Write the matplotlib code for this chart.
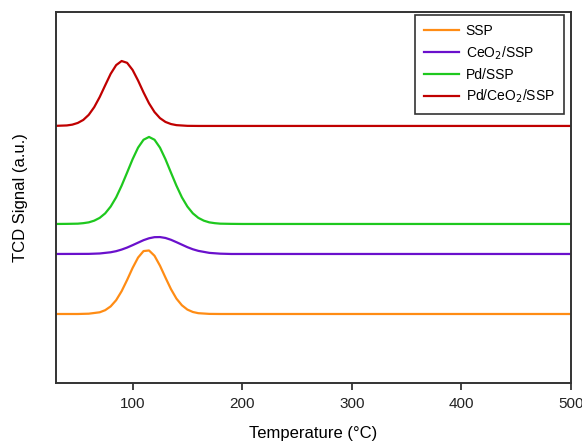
import matplotlib
matplotlib.use("Agg")
import matplotlib.pyplot as plt

plt.rcParams['font.family'] = ['Liberation Sans', 'DejaVu Sans']

# temperatures (C) and TCD signals (a.u.)
t_ssp = [30, 50, 60, 70, 75, 80, 85, 90, 95, 100, 105, 110, 115, 120, 125, 130, 135, 140,
         145, 150, 155, 160, 170, 180, 500]
y_ssp = [0.690, 0.690, 0.693, 0.707, 0.728, 0.766, 0.828, 0.918, 1.030, 1.150, 1.254, 1.319,
         1.325, 1.272, 1.173, 1.054, 0.939, 0.844, 0.777, 0.734, 0.710, 0.698, 0.691, 0.690, 0.690]

t_ceo2 = [30, 60, 70, 80, 85, 90, 95, 100, 105, 110, 115, 120, 125, 130, 135, 140, 145, 150,
          155, 160, 170, 180, 190, 500]
y_ceo2 = [1.290, 1.291, 1.295, 1.307, 1.318, 1.334, 1.354, 1.378, 1.403, 1.428, 1.447, 1.458,
          1.459, 1.450, 1.432, 1.408, 1.383, 1.358, 1.337, 1.321, 1.301, 1.293, 1.290, 1.290]

t_pd = [30, 40, 50, 55, 60, 65, 70, 75, 80, 85, 90, 95, 100, 105, 110, 115, 120, 125, 130,
        135, 140, 145, 150, 155, 160, 165, 170, 175, 180, 190, 200, 500]
y_pd = [1.590, 1.591, 1.593, 1.598, 1.606, 1.623, 1.651, 1.696, 1.764, 1.856, 1.973, 2.104,
        2.237, 2.353, 2.432, 2.460, 2.432, 2.353, 2.237, 2.104, 1.973, 1.856, 1.764, 1.696,
        1.651, 1.623, 1.606, 1.598, 1.593, 1.591, 1.590, 1.590]

t_pdceo2 = [30, 40, 45, 50, 55, 60, 65, 70, 75, 80, 85, 90, 95, 100, 105, 110, 115, 120, 125,
            130, 135, 140, 150, 160, 500]
y_pdceo2 = [2.571, 2.575, 2.583, 2.600, 2.630, 2.681, 2.758, 2.859, 2.976, 3.091, 3.178, 3.219,
            3.201, 3.130, 3.024, 2.905, 2.796, 2.709, 2.648, 2.610, 2.589, 2.578, 2.571, 2.570,
            2.570]

fig = plt.figure(figsize=(5.82, 4.41), dpi=100)
ax = fig.add_axes([0.096, 0.1315, 0.885, 0.8415])

ax.plot(t_ssp, y_ssp, color='#ff8c14', lw=1.6, label='SSP')
ax.plot(t_ceo2, y_ceo2, color='#6a10cc', lw=1.6, label='CeO$_2$/SSP')
ax.plot(t_pd, y_pd, color='#1ec81e', lw=1.6, label='Pd/SSP')
ax.plot(t_pdceo2, y_pdceo2, color='#c00000', lw=1.6, label='Pd/CeO$_2$/SSP')

ax.set_xlim(30, 500)
ax.set_ylim(0, 3.71)
ax.set_xticks([100, 200, 300, 400, 500])
ax.set_yticks([])
ax.tick_params(axis='x', direction='out', length=5, width=1.2, labelsize=11, pad=5, colors='#222222')
for s in ax.spines.values():
    s.set_linewidth(1.4)
    s.set_color('#333333')

ax.set_xlabel('Temperature (°C)', fontsize=12, labelpad=11)
ax.set_ylabel('TCD Signal (a.u.)', fontsize=12, labelpad=20)

leg = ax.legend(loc='upper right', bbox_to_anchor=(0.986, 0.992), borderaxespad=0,
                fancybox=False, edgecolor='#333333', fontsize=10, handlelength=2.5,
                handletextpad=0.5, labelspacing=0.45, borderpad=0.65, framealpha=1)
leg.get_frame().set_linewidth(1.2)

fig.savefig('out.png', dpi=100)
